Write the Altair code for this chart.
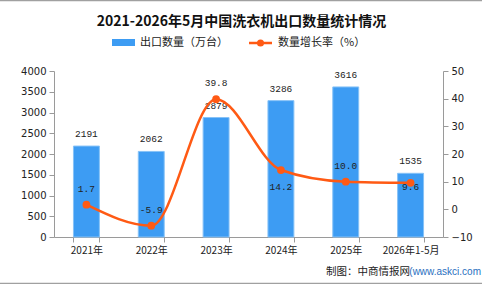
import altair as alt
import pandas as pd

years = ["2021年", "2022年", "2023年", "2024年", "2025年", "2026年1-5月"]
volumes = [2191, 2062, 2879, 3286, 3616, 1535]
growth = [1.7, -5.9, 39.8, 14.2, 10.0, 9.6]
growth_text = ["1.7", "-5.9", "39.8", "14.2", "10.0", "9.6"]
left_ticks = [0, 500, 1000, 1500, 2000, 2500, 3000, 3500, 4000]
right_ticks = [-10, 0, 10, 20, 30, 40, 50]

title_text = "2021-2026年5月中国洗衣机出口数量统计情况"
legend_bar = "出口数量（万台）"
legend_line = "数量增长率（%）"
source_a = "制图：中商情报网"
source_b = "(www.askci.com"

below_years = ["2024年"]
center_years = ["2026年1-5月"]

df = pd.DataFrame({"year": years, "volume": volumes, "growth": growth, "gtext": growth_text})

BLUE = "#3d9cf3"
ORANGE = "#ff5a14"
AXIS = "#9a9a9a"
TXT = "#222222"
NUMFONT = "Liberation Mono"
FONT = "Noto Sans CJK SC"

x = alt.X("year:N", sort=years, title=None,
          scale=alt.Scale(paddingInner=0.6, paddingOuter=0.3),
          axis=alt.Axis(labelAngle=0, tickBand="extent", labelFont=FONT, labelFontSize=10,
                        labelColor=TXT, domainColor=AXIS, tickColor=AXIS, tickSize=5,
                        labelPadding=3))

yl = alt.Y("volume:Q", title=None,
           scale=alt.Scale(domain=[0, 4000], nice=False),
           axis=alt.Axis(values=left_ticks, format="d", grid=False, labelFont="DejaVu Sans", labelFontSize=10,
                         labelColor=TXT, domainColor=AXIS, tickColor=AXIS, tickSize=5,
                         labelPadding=3, orient="left"))

yr = alt.Y("growth:Q", title=None,
           scale=alt.Scale(domain=[-10, 50], nice=False),
           axis=alt.Axis(values=right_ticks, format="d", grid=False, labelFont="DejaVu Sans", labelFontSize=10,
                         labelColor=TXT, domainColor=AXIS, tickColor=AXIS, tickSize=5,
                         labelPadding=3, orient="right"))

base = alt.Chart(df)

bars = base.mark_bar(color=BLUE, stroke="#86c2f7", strokeWidth=1).encode(x=x, y=yl)
bar_labels = base.mark_text(font=NUMFONT, fontSize=9.5, color=TXT, dy=-12, baseline="middle").encode(
    x=x, y=yl, text="volume:Q")

left_layer = alt.layer(bars, bar_labels)

line = base.mark_line(color=ORANGE, strokeWidth=2.5, interpolate="monotone").encode(x=x, y=yr)
pts = base.mark_point(color=ORANGE, filled=True, opacity=1, size=60).encode(x=x, y=yr)
lab_above = base.transform_filter(
    ~alt.FieldOneOfPredicate(field="year", oneOf=below_years + center_years)
).mark_text(font=NUMFONT, fontSize=9.5, color=TXT, dy=-16, baseline="middle").encode(x=x, y=yr, text="gtext:N")
lab_below = base.transform_filter(
    alt.FieldOneOfPredicate(field="year", oneOf=below_years)
).mark_text(font=NUMFONT, fontSize=9.5, color=TXT, dy=17, baseline="middle").encode(x=x, y=yr, text="gtext:N")
lab_center = base.transform_filter(
    alt.FieldOneOfPredicate(field="year", oneOf=center_years)
).mark_text(font=NUMFONT, fontSize=9.5, color=TXT, dy=4, baseline="middle").encode(x=x, y=yr, text="gtext:N")

right_layer = alt.layer(line, pts, lab_above, lab_below, lab_center)

one = alt.Data(values=[{"a": 1}])

title = alt.Chart(one).mark_text(font=FONT, fontSize=14, fontWeight="bold", color="#111111",
                                 baseline="middle", align="center").encode(
    x=alt.value(187.5), y=alt.value(-49), text=alt.value(title_text))
leg_rect = alt.Chart(one).mark_rect(color=BLUE).encode(
    x=alt.value(58), x2=alt.value(81), y=alt.value(-32), y2=alt.value(-25))
leg_t1 = alt.Chart(one).mark_text(font=FONT, fontSize=11, color=TXT, align="left", baseline="middle").encode(
    x=alt.value(86), y=alt.value(-28), text=alt.value(legend_bar))
leg_line = alt.Chart(one).mark_rule(color=ORANGE, strokeWidth=2.5).encode(
    x=alt.value(195), x2=alt.value(218), y=alt.value(-28))
leg_dot = alt.Chart(one).mark_point(color=ORANGE, filled=True, opacity=1, size=50).encode(
    x=alt.value(206.5), y=alt.value(-28))
leg_t2 = alt.Chart(one).mark_text(font=FONT, fontSize=11, color=TXT, align="left", baseline="middle").encode(
    x=alt.value(224), y=alt.value(-28), text=alt.value(legend_line))
src1 = alt.Chart(one).mark_text(font=FONT, fontSize=10.5, color=TXT, align="right", baseline="middle").encode(
    x=alt.value(356), y=alt.value(201), text=alt.value(source_a))
src2 = alt.Chart(one).mark_text(font="Liberation Sans", fontSize=10, color="#2a6fc0", align="right", baseline="middle").encode(
    x=alt.value(427), y=alt.value(201), text=alt.value(source_b))
top_border = alt.Chart(one).mark_rule(color="#a0a0a0", strokeWidth=1.5).encode(
    x=alt.value(-54), x2=alt.value(428), y=alt.value(-70.5))
bot_border = alt.Chart(one).mark_rule(color="#a0a0a0", strokeWidth=1.5).encode(
    x=alt.value(-54), x2=alt.value(428), y=alt.value(212.5))

main = alt.layer(left_layer, right_layer).resolve_scale(y="independent")

chart = alt.layer(main, title, leg_rect, leg_t1, leg_line, leg_dot, leg_t2, src1, src2,
                  top_border, bot_border).properties(
    width=389, height=166,
    autosize=alt.AutoSizeParams(type="none"),
    padding={"left": 54, "top": 71, "right": 39, "bottom": 47},
    background="white",
).configure_view(stroke=None)

chart.save("out.html", embed_options={"renderer": "svg", "actions": False})
